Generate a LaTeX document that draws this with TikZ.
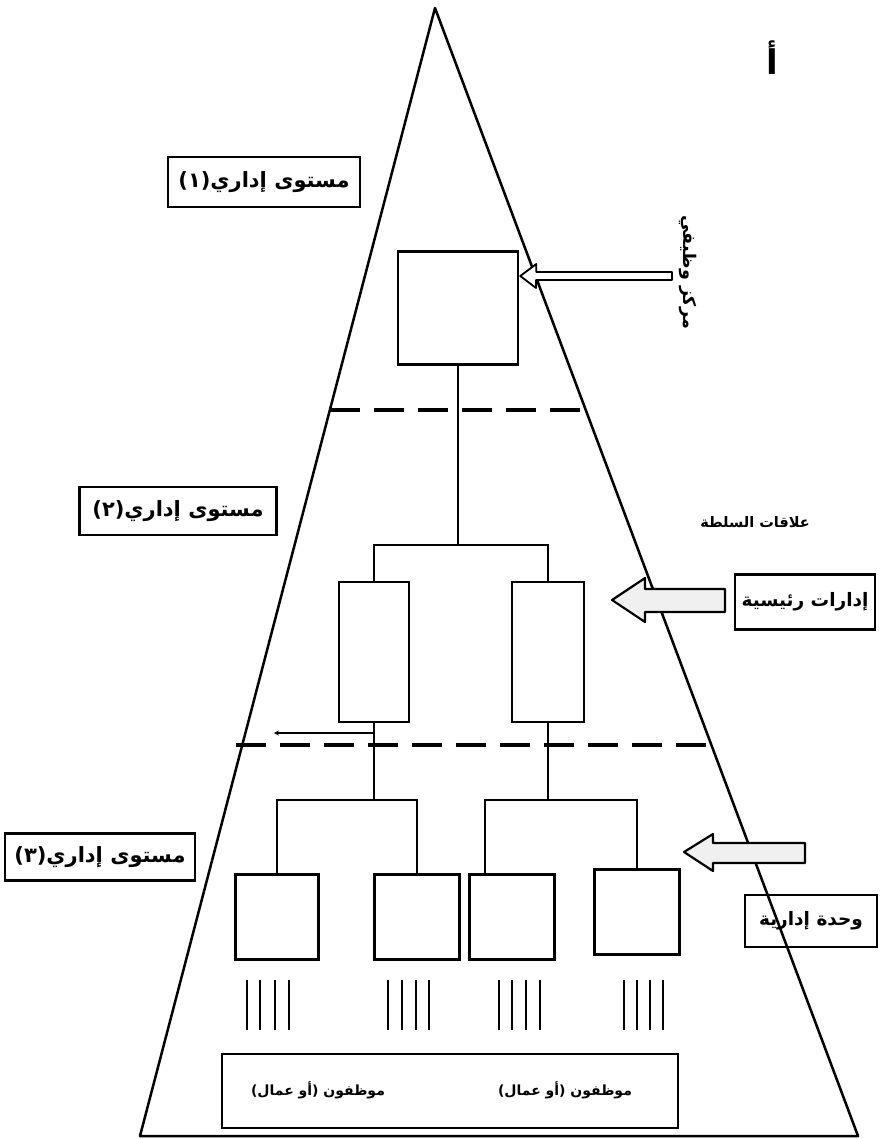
\documentclass[tikz,border=0pt]{standalone}
\usepackage{fontspec}
\usetikzlibrary{arrows.meta}
\TeXXeTstate=1
\newfontfamily\arabicfont[Script=Arabic]{DejaVu Sans}
\newcommand{\ar}[1]{{\arabicfont\bfseries\beginR #1\endR}}
\begin{document}
\begin{tikzpicture}[x=1pt,y=-1pt,
  box/.style={draw,line width=2.5pt,inner sep=0pt},
  lab/.style={draw,line width=2.5pt,inner sep=2pt,font=\fontsize{21}{23}\selectfont},
  conn/.style={line width=2.4pt},
  dashline/.style={line width=4.5pt,dash pattern=on 30pt off 14pt},
  tally/.style={line width=2.8pt},
  bigarrow/.style={draw,line width=2.2pt,fill=gray!12,line join=round}]
\useasboundingbox (0,0) rectangle (888,1139);
% triangle
\coordinate (apex) at (435,8);
\coordinate (bl) at (140,1136);
\coordinate (br) at (858,1136);
\draw[line width=2.5pt,line join=round] (bl) -- (apex) -- (br) -- cycle;
% dashed level separators
\coordinate (d1l) at (330,410);
\coordinate (d1r) at (585,410);
\coordinate (d2l) at (236,745);
\coordinate (d2r) at (708,745);
\draw[dashline] (d1l) -- (d1r);
\draw[dashline] (d2l) -- (d2r);
% top box
\node[box,minimum width=120pt,minimum height=113pt] (top) at (458,308) {};
% level 2 boxes
\node[box,minimum width=70pt,minimum height=140pt] (m1) at (374,652) {};
\node[box,minimum width=72pt,minimum height=140pt] (m2) at (548,652) {};
\coordinate (j1) at (458,545);
\coordinate (j1l) at (374,545);
\coordinate (j1r) at (548,545);
\draw[conn] (top.south) -- (j1);
\draw[conn] (m1.north) -- (j1l) -- (j1r) -- (m2.north);
% level 3 boxes
\node[box,minimum width=83pt,minimum height=85pt] (b1) at (277,917) {};
\node[box,minimum width=85pt,minimum height=85pt] (b2) at (417,917) {};
\node[box,minimum width=85pt,minimum height=85pt] (b3) at (512,917) {};
\node[box,minimum width=85pt,minimum height=85pt] (b4) at (637,912) {};
\coordinate (j2) at (374,800);
\coordinate (j2l) at (277,800);
\coordinate (j2r) at (417,800);
\coordinate (j3) at (548,800);
\coordinate (j3l) at (485,800);
\coordinate (j3r) at (637,800);
\coordinate (b3t) at (485,874.5);
\draw[conn] (m1.south) -- (j2);
\draw[conn] (b1.north) -- (j2l) -- (j2r) -- (b2.north);
\draw[conn] (m2.south) -- (j3);
\draw[conn] (b3t) -- (j3l) -- (j3r) -- (b4.north);
% small arrow to the left
\coordinate (sa) at (374,733);
\coordinate (sb) at (274,733);
\draw[line width=1.8pt,-{Stealth[length=5pt,width=5pt]}] (sa) -- (sb);
% tallies
\foreach \x in {247,260,275,289,388,402,416,429,499,512,526,540,624,637,650,663}
  \draw[tally] (\x,980) -- (\x,1030);
% bottom box
\node[box,minimum width=456pt,minimum height=74pt] (staff) at (450,1091) {};
\node[font=\fontsize{14}{16}\selectfont] (st1) at (318,1090) {\ar{موظفون (أو عمال)}};
\node[font=\fontsize{14}{16}\selectfont] (st2) at (565,1090) {\ar{موظفون (أو عمال)}};
% left level labels
\node[lab,minimum width=192pt,minimum height=50pt] (lv1) at (264,182) {\ar{مستوى إداري(١)}};
\node[lab,minimum width=197pt,minimum height=48pt] (lv2) at (178,511) {\ar{مستوى إداري(٢)}};
\node[lab,minimum width=190pt,minimum height=47pt] (lv3) at (100,857) {\ar{مستوى إداري(٣)}};
% letter
\node[font=\fontsize{34}{36}\selectfont] (alef) at (772,58) {\ar{أ}};
% functional position label with thin arrow
\node[rotate=-90,font=\fontsize{17.5}{19}\selectfont] (pos) at (688,272) {\ar{مركز وظيفي}};
\draw[line width=1.8pt,line join=round,fill=white] (top.east |- 0,276) ++(1,0) -- ++(16,-12) -- ++(0,8) -- (672,272) -- (672,280) -- (536,280) -- (536,288) -- cycle;
% authority relations
\node[font=\fontsize{14.5}{16}\selectfont] (auth) at (755,522) {\ar{علاقات السلطة}};
% main departments
\node[lab,minimum width=140pt,minimum height=55pt,font=\fontsize{18.5}{20}\selectfont] (dept) at (805,602) {\ar{إدارات رئيسية}};
\draw[bigarrow] (612,600) -- (645,578) -- (645,589) -- (725,589) -- (725,612) -- (645,612) -- (645,622) -- cycle;
% administrative unit
\node[lab,minimum width=132pt,minimum height=52pt,font=\fontsize{18.5}{20}\selectfont] (unit) at (811,921) {\ar{وحدة إدارية}};
\draw[bigarrow] (684,852) -- (713,834) -- (713,843) -- (805,843) -- (805,863) -- (713,863) -- (713,871) -- cycle;
\end{tikzpicture}
\end{document}
